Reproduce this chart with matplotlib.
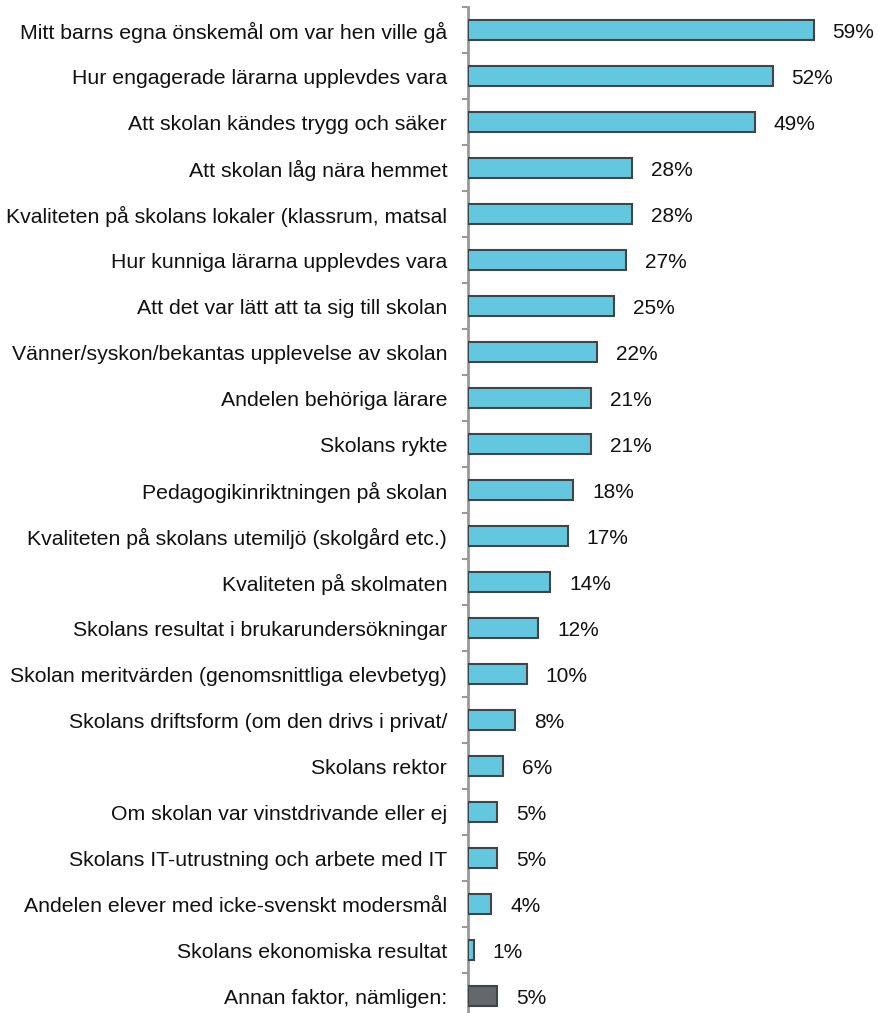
import matplotlib
matplotlib.use("Agg")
import matplotlib.pyplot as plt
import numpy as np

categories = [
    "Mitt barns egna önskemål om var hen ville gå",
    "Hur engagerade lärarna upplevdes vara",
    "Att skolan kändes trygg och säker",
    "Att skolan låg nära hemmet",
    "Kvaliteten på skolans lokaler (klassrum, matsal",
    "Hur kunniga lärarna upplevdes vara",
    "Att det var lätt att ta sig till skolan",
    "Vänner/syskon/bekantas upplevelse av skolan",
    "Andelen behöriga lärare",
    "Skolans rykte",
    "Pedagogikinriktningen på skolan",
    "Kvaliteten på skolans utemiljö (skolgård etc.)",
    "Kvaliteten på skolmaten",
    "Skolans resultat i brukarundersökningar",
    "Skolan meritvärden (genomsnittliga elevbetyg)",
    "Skolans driftsform (om den drivs i privat/",
    "Skolans rektor",
    "Om skolan var vinstdrivande eller ej",
    "Skolans IT-utrustning och arbete med IT",
    "Andelen elever med icke-svenskt modersmål",
    "Skolans ekonomiska resultat",
    "Annan faktor, nämligen:",
]
values = [59, 52, 49, 28, 28, 27, 25, 22, 21, 21, 18, 17, 14, 12, 10, 8, 6, 5, 5, 4, 1, 5]
value_labels = ["59%", "52%", "49%", "28%", "28%", "27%", "25%", "22%", "21%", "21%",
                "18%", "17%", "14%", "12%", "10%", "8%", "6%", "5%", "5%", "4%", "1%", "5%"]

plt.rcParams['font.family'] = ['Liberation Sans', 'DejaVu Sans']

W, H = 879, 1013
fig = plt.figure(figsize=(W / 100, H / 100), dpi=100)
ax = fig.add_axes([468 / W, (H - 1019) / H, (878 - 468) / W, 1012 / H])

n = len(categories)
y = np.arange(n)
colors = ["#63C8DF"] * (n - 1) + ["#65686B"]
ax.barh(y, values, height=0.43, color=colors, edgecolor="#404547", linewidth=1.5, zorder=3)

for yi, v, lab in zip(y, values, value_labels):
    ax.annotate(lab, (v, yi), xytext=(19, 0), textcoords="offset pixels",
                va="center_baseline", ha="left", fontsize=15, color="#111111")

ax.set_xlim(0, 70)
ax.set_ylim(n - 0.5, -0.5)
ax.set_yticks(y)
ax.set_yticklabels(categories, fontsize=15.3, color="#111111", va="center_baseline")
ax.tick_params(axis="y", which="major", length=0, pad=15)
ax.set_yticks(np.arange(n + 1) - 0.5, minor=True)
ax.tick_params(axis="y", which="minor", length=4, width=1.5, color="#999999", direction="out")
ax.set_xticks([])
for s in ["top", "right", "bottom"]:
    ax.spines[s].set_visible(False)
ax.spines["left"].set_color("#999999")
ax.spines["left"].set_linewidth(2)
ax.patch.set_alpha(0)

fig.savefig("out.png", dpi=100)
